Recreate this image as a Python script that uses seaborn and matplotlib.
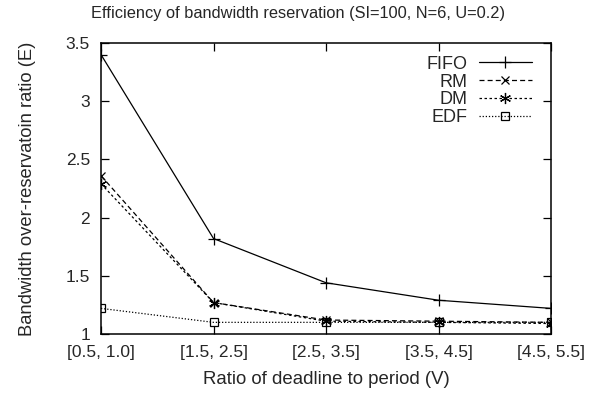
import matplotlib
matplotlib.use('Agg')
import matplotlib.pyplot as plt
import seaborn as sns
import pandas as pd

# Data
categories = ['[0.5, 1.0]', '[1.5, 2.5]', '[2.5, 3.5]', '[3.5, 4.5]', '[4.5, 5.5]']
fifo = [3.40, 1.82, 1.44, 1.29, 1.22]
rm = [2.36, 1.27, 1.12, 1.11, 1.10]
dm = [2.29, 1.27, 1.11, 1.10, 1.09]
edf = [1.22, 1.10, 1.10, 1.10, 1.10]

sns.set_style('ticks')
plt.rcParams['font.family'] = ['Liberation Sans', 'DejaVu Sans']

fig = plt.figure(figsize=(6.02, 3.94), dpi=100)
ax = fig.add_axes([0.1678, 0.1523, 0.7475, 0.7386])

series = [
    ('FIFO', fifo, '-', '+', 8),
    ('RM', rm, (0, (4, 2.5)), 'x', 6),
    ('DM', dm, (0, (2, 2)), (6, 2, 0), 8),
    ('EDF', edf, (0, (1, 1.5)), 's', 6),
]
x = list(range(len(categories)))
for name, vals, ls, mk, ms in series:
    df = pd.DataFrame({'x': x, 'y': vals})
    sns.lineplot(data=df, x='x', y='y', ax=ax, color='black', linewidth=0.9,
                 linestyle=ls, marker=mk, markersize=ms, markerfacecolor='none',
                 markeredgecolor='black', markeredgewidth=0.9, label=name)

ax.set_xlim(0, 4)
ax.set_ylim(1, 3.5)
ax.set_xticks(x)
ax.set_xticklabels(categories)
ax.set_yticks([1, 1.5, 2, 2.5, 3, 3.5])
ax.set_yticklabels(['1', '1.5', '2', '2.5', '3', '3.5'])
ax.tick_params(direction='in', length=6, width=0.9, top=True, right=True,
               labelsize=12.5, pad=8, color='black')
for s in ax.spines.values():
    s.set_linewidth(1.1)
    s.set_color('black')
    s.set_visible(True)

ax.set_xlabel('Ratio of deadline to period (V)', fontsize=13.4, labelpad=8)
ax.set_ylabel('Bandwidth over-reservatoin ratio (E)', fontsize=13.2, labelpad=21)
# gnuplot centres the title on the whole canvas
fig.text(0.495, 0.954, 'Efficiency of bandwidth reservation (SI=100, N=6, U=0.2)',
         fontsize=11.8, ha='center', va='baseline')

leg = ax.legend(loc='upper right', frameon=False, markerfirst=False, fontsize=13,
                handlelength=2.9, handletextpad=0.66, labelspacing=0.05,
                borderaxespad=0.3, bbox_to_anchor=(0.985, 1.0))

fig.savefig('out.png', dpi=100)
